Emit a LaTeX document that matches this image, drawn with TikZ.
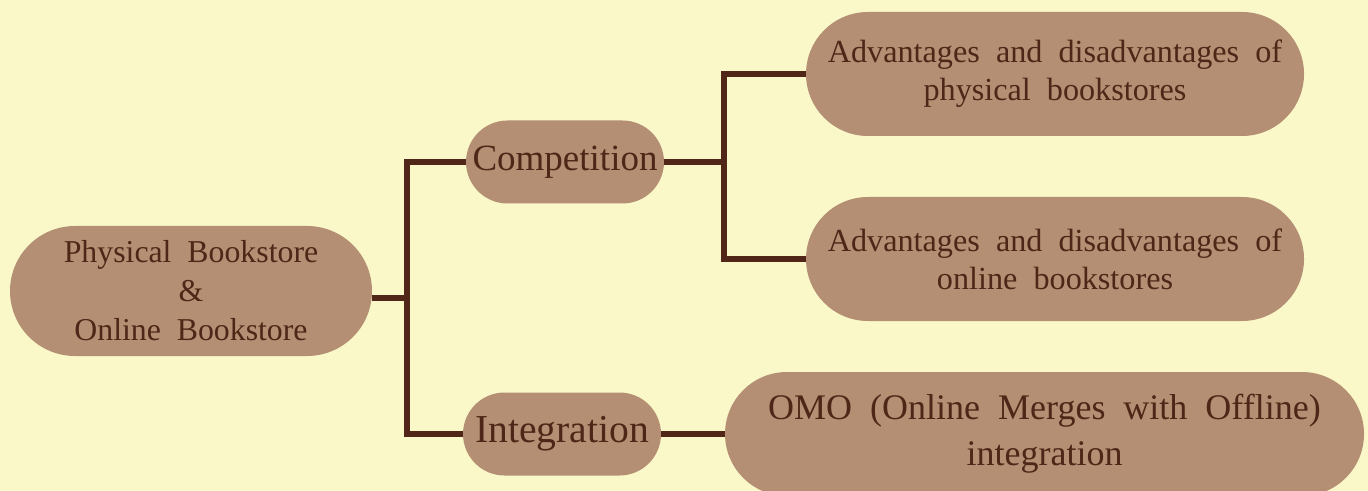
\documentclass[tikz,border=0pt]{standalone}
\usepackage{fontspec}
\setmainfont[WordSpace=2]{Liberation Serif}
\definecolor{paper}{HTML}{FAF8C8}
\definecolor{tan}{HTML}{B48F73}
\definecolor{bark}{HTML}{4F2617}
\tikzset{
  topic/.style={fill=tan, text=bark, align=center, inner sep=0pt},
  link/.style={draw=bark, line width=3pt}
}
\begin{document}
\begin{tikzpicture}[x=0.5pt, y=-0.5pt]
% Background
\fill[paper] (0,0) rectangle (1368,491);
\useasboundingbox (0,0) rectangle (1368,491);

% Root
\node[topic, minimum width=181pt, minimum height=65pt, rounded corners=32.5pt,
  font=\fontsize{15.9}{19.5}\selectfont] (root) at (191,291)
  {Physical Bookstore\\ \&\\ Online Bookstore};

% Level 1
\node[topic, minimum width=99pt, minimum height=41.5pt, rounded corners=20.75pt,
  font=\fontsize{18.5}{22}\selectfont] (comp) at (565,162) {Competition};
\node[topic, minimum width=99pt, minimum height=41.5pt, rounded corners=20.75pt,
  font=\fontsize{19.8}{22}\selectfont] (integ) at (562,434) {Integration};

% Level 2
\node[topic, minimum width=249pt, minimum height=62pt, rounded corners=31pt,
  font=\fontsize{16.1}{19}\selectfont] (adv1) at (1055,74)
  {Advantages and disadvantages of\\ physical bookstores};
\node[topic, minimum width=249pt, minimum height=62pt, rounded corners=31pt,
  font=\fontsize{16.1}{19}\selectfont] (adv2) at (1055,259)
  {Advantages and disadvantages of\\ online bookstores};
\node[topic, minimum width=319.5pt, minimum height=62pt, rounded corners=31pt,
  font=\fontsize{18}{23}\selectfont] (omo) at (1044.5,434)
  {OMO (Online Merges with Offline)\\ integration};

% Connectors
\coordinate (j1) at (407,298);
\coordinate (j2) at (724,162);
\draw[link] (root.east |- j1) -- (j1);
\draw[link] (comp.west) -| (j1) |- (integ.west);
\draw[link] (comp.east) -- (j2);
\draw[link] (adv1.west) -| (j2) |- (adv2.west);
\draw[link] (integ.east) -- (omo.west);
\end{tikzpicture}
\end{document}
